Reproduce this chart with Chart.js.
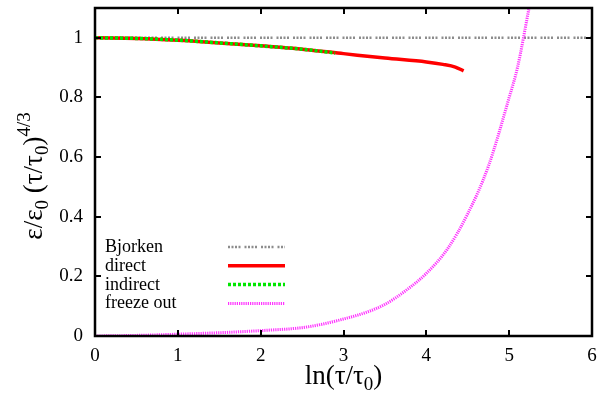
<!DOCTYPE html>
<html>
<head>
<meta charset="utf-8">
<script src="https://cdn.jsdelivr.net/npm/chart.js@4/dist/chart.umd.min.js"></script>
<style>
html, body { margin: 0; padding: 0; background: #fff; }
</style>
</head>
<body>
<canvas id="chart" width="599" height="395"></canvas>
<script>
// ---- data ----
const xTicks = [0, 1, 2, 3, 4, 5, 6];
const yTicks = [0, 0.2, 0.4, 0.6, 0.8, 1];
const yTickLabels = ['0', '0.2', '0.4', '0.6', '0.8', '1'];

const bjorkenX = [0, 6];
const bjorkenY = [1, 1];

const directX = [0, 0.5, 1, 1.5, 2, 2.5, 3, 3.5, 4, 4.2, 4.35, 4.45];
const directY = [1.0, 0.998, 0.992, 0.983, 0.973, 0.962, 0.947, 0.932, 0.919, 0.911, 0.902, 0.889];

const indirectX = [0, 0.5, 1, 1.5, 2, 2.5, 2.9];
const indirectY = [1.0, 0.998, 0.992, 0.983, 0.973, 0.962, 0.949];

const freezeX = [0, 0.5, 1, 1.5, 2, 2.5, 2.75, 3, 3.25, 3.5, 3.75, 4, 4.25, 4.5, 4.75, 5, 5.1, 5.24];
const freezeY = [0, 0.002, 0.006, 0.011, 0.018, 0.028, 0.04, 0.057, 0.077, 0.106, 0.152, 0.21, 0.29, 0.41, 0.57, 0.8, 0.9, 1.1];

const serif = '"Liberation Serif", "DejaVu Serif", serif';

function pts(xs, ys) {
    return xs.map((x, i) => ({ x: x, y: ys[i] }));
}

function noPad(scale) {
    scale.paddingTop = 0;
    scale.paddingBottom = 0;
    scale.paddingLeft = 0;
    scale.paddingRight = 0;
}

/* frame, inward ticks, legend and axis titles, gnuplot style */
const gnuplotFrame = {
    id: 'gnuplotFrame',
    afterDatasetsDraw(chart) {
        const ctx = chart.ctx;
        const a = chart.chartArea;
        const xs = chart.scales.x;
        const ys = chart.scales.y;
        const tl = 6;

        ctx.save();
        ctx.strokeStyle = '#000';
        ctx.lineWidth = 2;
        ctx.beginPath();
        xTicks.forEach(v => {
            const px = Math.round(xs.getPixelForValue(v));
            ctx.moveTo(px, a.bottom); ctx.lineTo(px, a.bottom - tl);
            ctx.moveTo(px, a.top); ctx.lineTo(px, a.top + tl);
        });
        yTicks.forEach(v => {
            const py = Math.round(ys.getPixelForValue(v));
            ctx.moveTo(a.left, py); ctx.lineTo(a.left + tl, py);
            ctx.moveTo(a.right, py); ctx.lineTo(a.right - tl, py);
        });
        ctx.stroke();
        ctx.lineWidth = 2.5;
        ctx.strokeRect(a.left, a.top, a.right - a.left, a.bottom - a.top);

        // legend: text left, line sample right
        ctx.fillStyle = '#000';
        ctx.font = '18px ' + serif;
        ctx.textBaseline = 'alphabetic';
        ctx.textAlign = 'left';
        chart.data.datasets.forEach((ds, i) => {
            const base = 252 + i * 18.8;
            ctx.fillText(ds.label, 105, base);
            ctx.save();
            ctx.strokeStyle = ds.borderColor;
            ctx.lineWidth = ds.borderWidth;
            ctx.setLineDash(ds.borderDash || []);
            ctx.beginPath();
            ctx.moveTo(228, base - 5);
            ctx.lineTo(285, base - 5);
            ctx.stroke();
            ctx.restore();
        });

        // axis titles with sub/superscripts
        drawRich(ctx, [
            ['ln(τ/τ', 0], ['0', 1], [')', 0]
        ], (a.left + a.right) / 2, 384, 0);
        drawRich(ctx, [
            ['ε/ε', 0], ['0', 1], [' (τ/τ', 0], ['0', 1], [')', 0], ['4/3', 2]
        ], 42, 176, -Math.PI / 2);
        ctx.restore();
    }
};

// kind: 0 normal, 1 subscript, 2 superscript
function drawRich(ctx, parts, cx, cy, angle) {
    const big = '27px ' + serif;
    const small = '19px ' + serif;
    let w = 0;
    parts.forEach(p => {
        ctx.font = p[1] ? small : big;
        w += ctx.measureText(p[0]).width;
    });
    ctx.save();
    ctx.translate(cx, cy);
    ctx.rotate(angle);
    ctx.textAlign = 'left';
    ctx.textBaseline = 'alphabetic';
    let x = -w / 2;
    parts.forEach(p => {
        ctx.font = p[1] ? small : big;
        const dy = p[1] === 1 ? 6 : (p[1] === 2 ? -12 : 0);
        ctx.fillText(p[0], x, dy);
        x += ctx.measureText(p[0]).width;
    });
    ctx.restore();
}

new Chart(document.getElementById('chart'), {
    type: 'line',
    data: {
        datasets: [
            {
                label: 'Bjorken',
                data: pts(bjorkenX, bjorkenY),
                borderColor: '#8c8c8c',
                borderWidth: 2.5,
                borderDash: [2, 1.5, 2, 1.5, 2, 1.5, 2, 4],
                order: 4
            },
            {
                label: 'direct',
                data: pts(directX, directY),
                borderColor: '#ff0000',
                borderWidth: 3.5,
                cubicInterpolationMode: 'monotone',
                order: 3
            },
            {
                label: 'indirect',
                data: pts(indirectX, indirectY),
                borderColor: '#00e600',
                borderWidth: 3.5,
                borderDash: [3, 2],
                cubicInterpolationMode: 'monotone',
                order: 2
            },
            {
                label: 'freeze out',
                data: pts(freezeX, freezeY),
                borderColor: '#ff33ff',
                borderWidth: 3,
                borderDash: [1.2, 1],
                cubicInterpolationMode: 'monotone',
                order: 1
            }
        ]
    },
    options: {
        responsive: false,
        animation: false,
        layout: { padding: { top: 8, right: 7, left: 0, bottom: 0 } },
        elements: { point: { radius: 0 } },
        plugins: {
            legend: { display: false },
            tooltip: { enabled: false }
        },
        scales: {
            x: {
                type: 'linear',
                min: 0,
                max: 6,
                grid: { display: false, drawTicks: false },
                border: { display: false },
                ticks: {
                    stepSize: 1,
                    color: '#000',
                    padding: 9,
                    maxRotation: 0,
                    font: { family: serif, size: 19 }
                },
                afterFit(scale) { scale.height = 59; noPad(scale); }
            },
            y: {
                min: 0,
                max: 1.1,
                grid: { display: false, drawTicks: false },
                border: { display: false },
                afterBuildTicks(scale) {
                    scale.ticks = yTicks.map(v => ({ value: v }));
                },
                ticks: {
                    color: '#000',
                    padding: 12,
                    font: { family: serif, size: 19 },
                    callback: (v) => yTickLabels[yTicks.indexOf(v)] ?? ''
                },
                afterFit(scale) { scale.width = 95; noPad(scale); }
            }
        }
    },
    plugins: [gnuplotFrame]
});
</script>
</body>
</html>
